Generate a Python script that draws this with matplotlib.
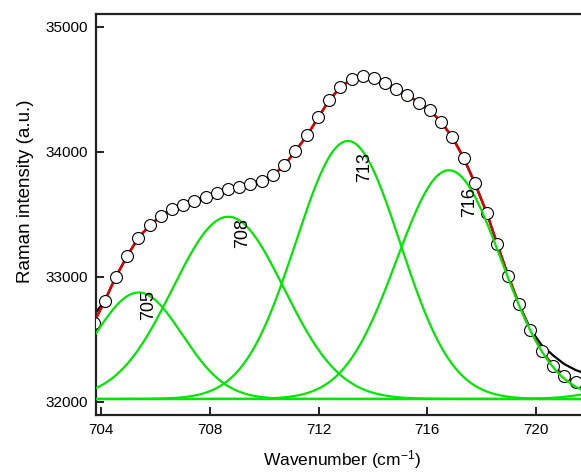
import numpy as np
import matplotlib
matplotlib.use("Agg")
import matplotlib.pyplot as plt

plt.rcParams["font.family"] = ["Liberation Sans", "DejaVu Sans"]
plt.rcParams["mathtext.fontset"] = "custom"
plt.rcParams["mathtext.rm"] = "Liberation Sans"
plt.rcParams["mathtext.default"] = "regular"

# sampled fit (circles / red line)
wavenumber = [703.73, 704.14, 704.54, 704.96, 705.36, 705.79, 706.20, 706.61,
              707.02, 707.42, 707.85, 708.27, 708.67, 709.08, 709.48, 709.93,
              710.33, 710.74, 711.15, 711.58, 711.99, 712.39, 712.80, 713.22,
              713.62, 714.03, 714.44, 714.85, 715.26, 715.69, 716.11, 716.51,
              716.92, 717.34, 717.75, 718.19, 718.58, 718.98, 719.38, 719.80,
              720.21, 720.64, 721.04, 721.46, 721.87]
fit_intensity = [32631, 32809, 33001, 33167, 33311, 33412, 33487, 33540,
                 33572, 33607, 33641, 33673, 33700, 33721, 33740, 33769,
                 33815, 33892, 34007, 34132, 34276, 34412, 34516, 34583,
                 34607, 34591, 34548, 34500, 34455, 34395, 34332, 34239,
                 34119, 33953, 33751, 33513, 33260, 33009, 32780, 32575,
                 32409, 32289, 32209, 32156, 32116]
# measured spectrum (black line)
raw_intensity = [32690, 32815, 33001, 33167, 33311, 33412, 33487, 33540,
                 33572, 33607, 33641, 33673, 33700, 33721, 33740, 33769,
                 33815, 33892, 34007, 34132, 34276, 34412, 34516, 34583,
                 34607, 34591, 34548, 34500, 34455, 34395, 34332, 34239,
                 34119, 33953, 33751, 33513, 33260, 33009, 32780, 32580,
                 32455, 32371, 32303, 32255, 32223]

# fitted peak components
baseline = 32023
peak_centers = [705.38, 708.68, 713.08, 716.80, 724.0]
peak_heights = [852, 1458, 2064, 1830, 120]
peak_widths = [1.60, 2.05, 1.92, 1.93, 1.5]
peak_labels = ["705", "708", "713", "716"]
label_pos = [(705.74, 32775), (709.20, 33351), (713.71, 33879), (717.55, 33603)]

GREEN = "#00E600"

fig = plt.figure(figsize=(5.81, 4.72), dpi=100)
ax = fig.add_axes([96 / 581, 57 / 472, 504 / 581, 401 / 472])

xs = np.linspace(703.5, 722.5, 600)
ax.plot(wavenumber, raw_intensity, color="black", lw=1.6, zorder=2)
ax.plot(wavenumber, fit_intensity, color="#E00000", lw=1.8, zorder=3)
ax.plot(wavenumber, fit_intensity, "o", ms=8.6, mfc="white", mec="black",
        mew=0.8, zorder=4)

ax.plot([xs[0], xs[-1]], [baseline, baseline], color=GREEN, lw=1.6, zorder=5)
for c, h, s in zip(peak_centers, peak_heights, peak_widths):
    ax.plot(xs, baseline + h * np.exp(-(xs - c) ** 2 / (2 * s ** 2)),
            color=GREEN, lw=1.6, zorder=5)

for lab, (lx, ly) in zip(peak_labels, label_pos):
    ax.text(lx, ly, lab, rotation=90, ha="center", va="center",
            fontsize=13, zorder=6)

ax.set_xlim(703.81, 722.36)
ax.set_ylim(31895, 35103)
ax.set_xticks([704, 708, 712, 716, 720])
ax.set_yticks([32000, 33000, 34000, 35000])
ax.tick_params(direction="in", length=6, width=1.4, labelsize=11, pad=6,
               color="#222222")

for side in ["left", "bottom", "top"]:
    ax.spines[side].set_linewidth(1.6)
    ax.spines[side].set_color("#222222")
ax.spines["right"].set_visible(False)

ax.set_xlabel("Wavenumber (cm$^{-1}$)", fontsize=12.5)
ax.set_ylabel("Raman intensity (a.u.)", fontsize=13.5)
ax.xaxis.set_label_coords(0.4875, -0.082)
ax.yaxis.set_label_coords(-0.124, 0.559)

fig.savefig("out.png", dpi=100)
